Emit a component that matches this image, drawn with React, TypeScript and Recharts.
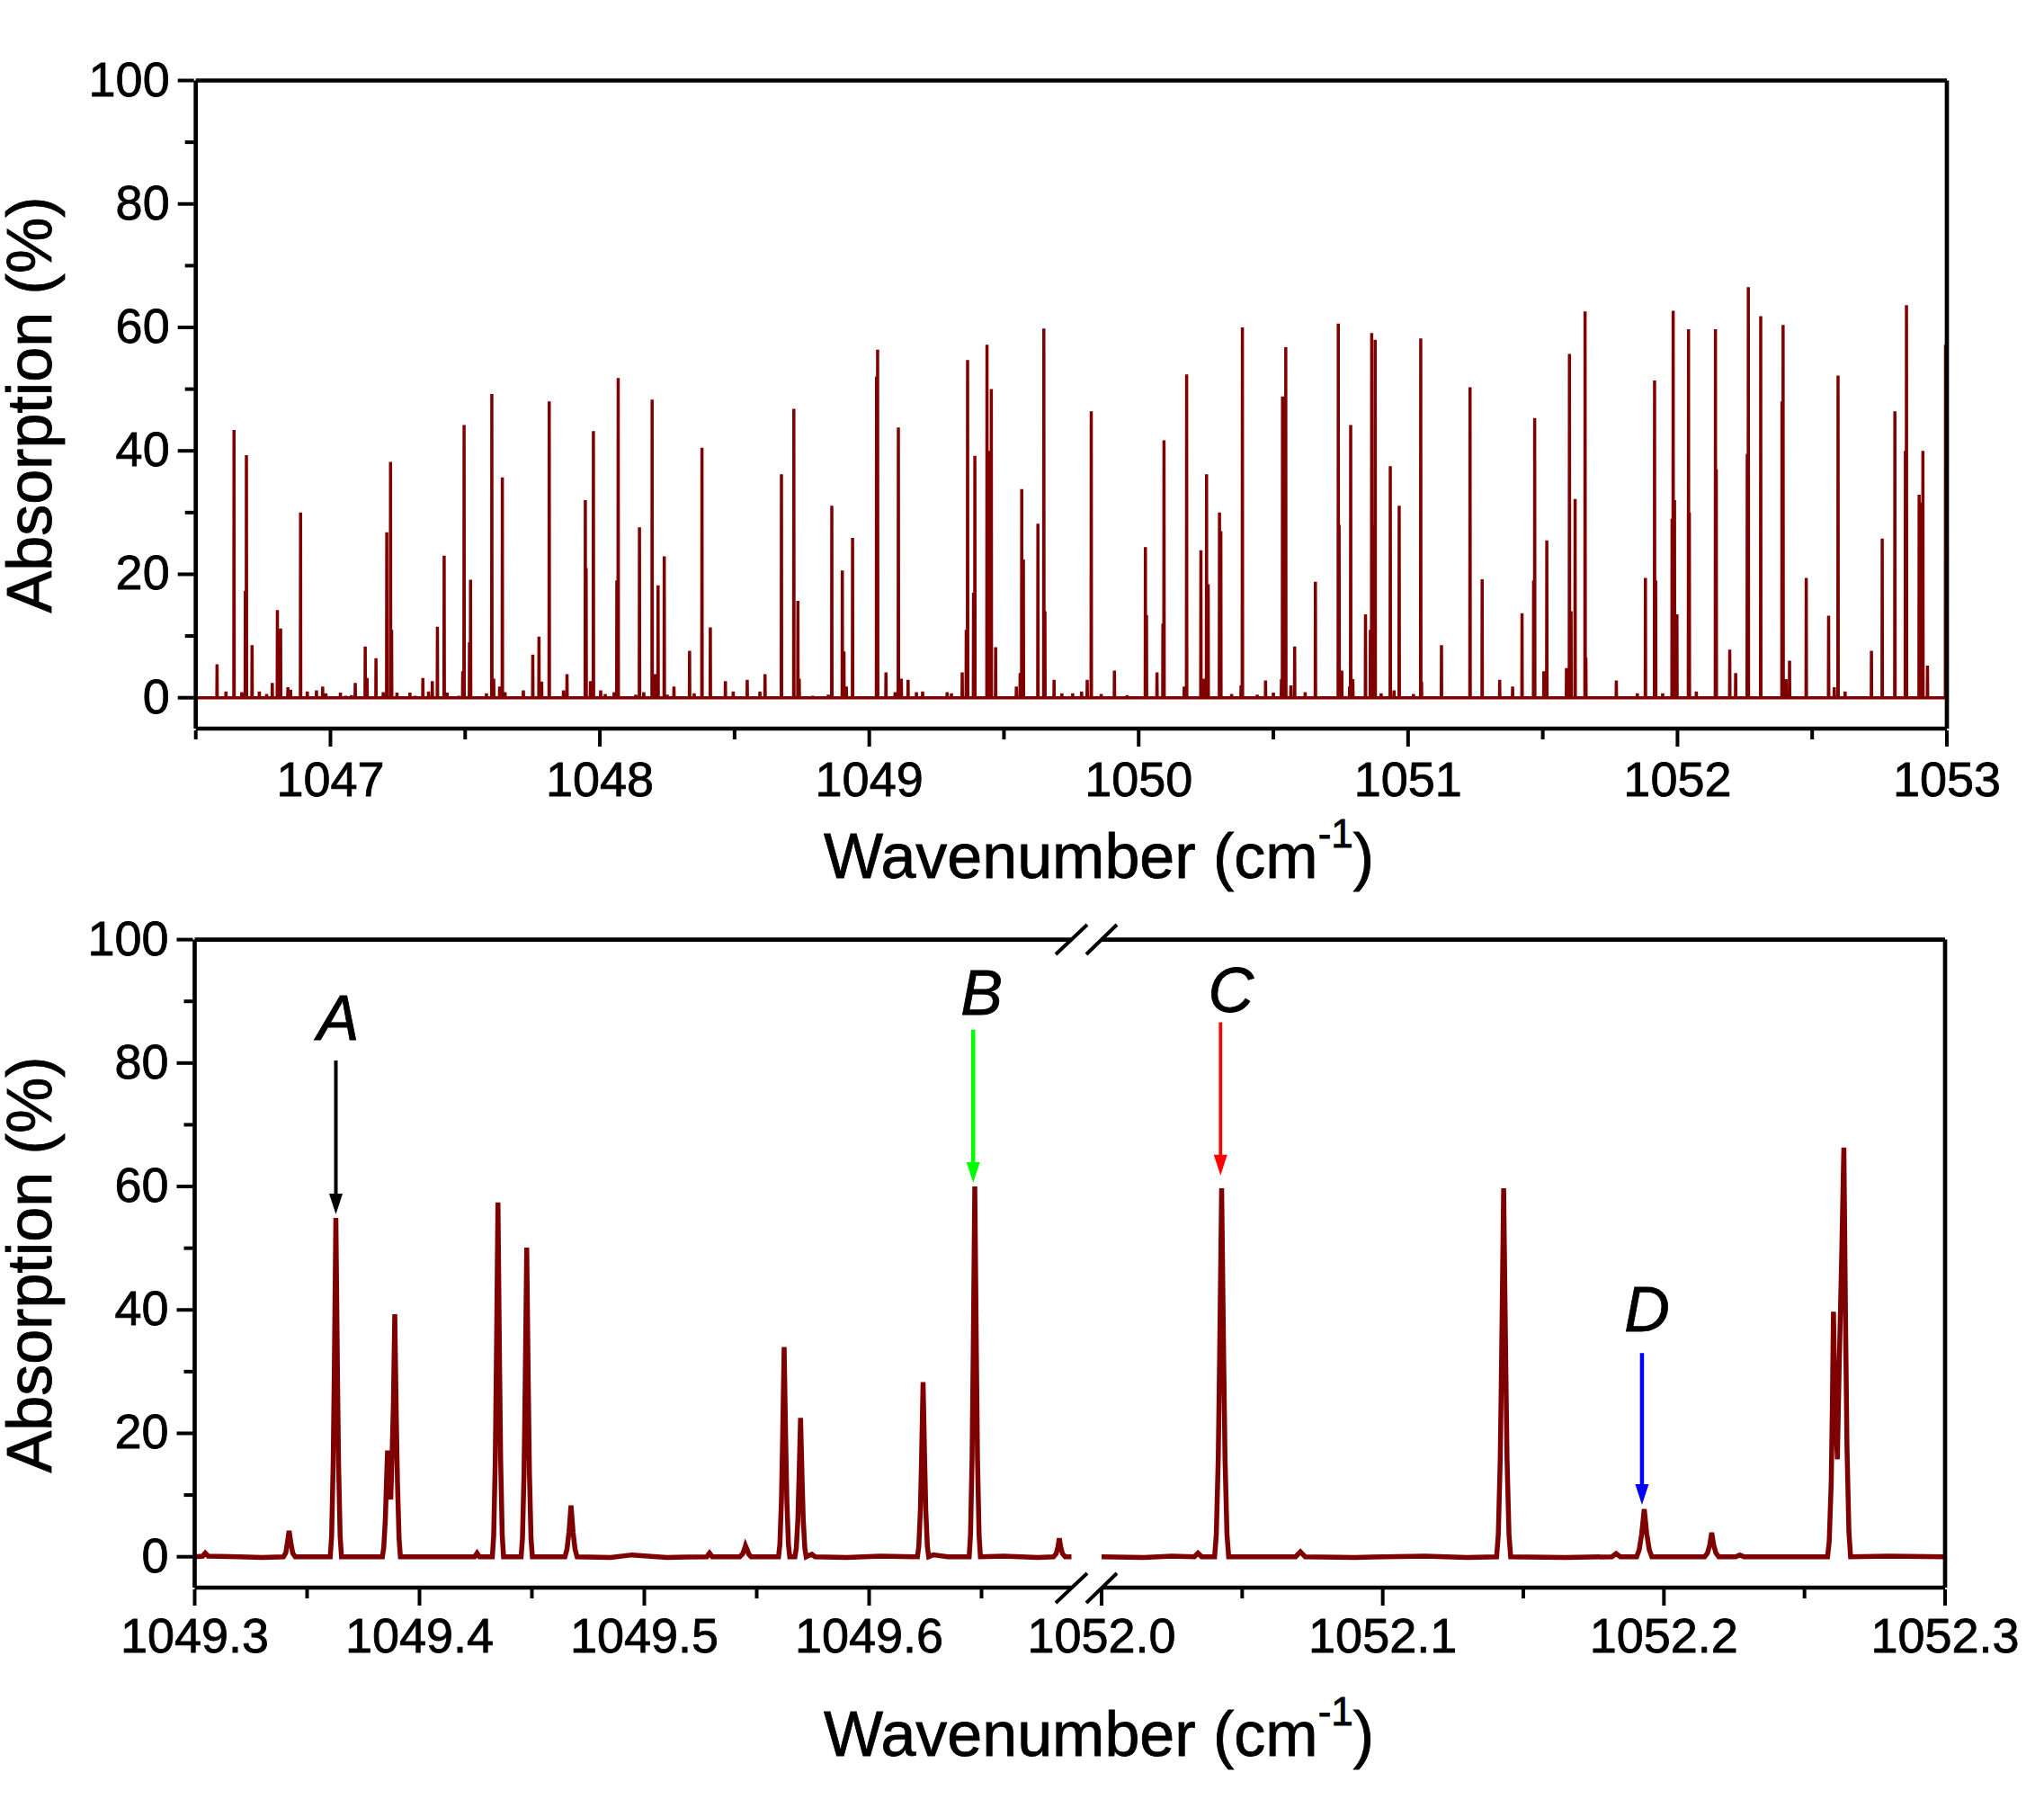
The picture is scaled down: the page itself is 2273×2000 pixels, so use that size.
import React from 'react'
import { LineChart, Line, XAxis, YAxis, ReferenceLine, ReferenceDot } from 'recharts'

// top panel: line positions (cm-1) and heights (%)
const surveyX = [
  1046.579, 1046.612, 1046.642, 1046.671, 1046.684, 1046.688, 1046.709, 1046.736, 1046.763, 1046.784, 1046.803, 1046.815,
  1046.842, 1046.852, 1046.889, 1046.914, 1046.948, 1046.971, 1046.983, 1047.037, 1047.056, 1047.078, 1047.092, 1047.129,
  1047.136, 1047.169, 1047.196, 1047.209, 1047.223, 1047.227, 1047.247, 1047.295, 1047.314, 1047.343, 1047.364, 1047.378,
  1047.397, 1047.422, 1047.433, 1047.476, 1047.491, 1047.496, 1047.516, 1047.52, 1047.579, 1047.599, 1047.606, 1047.628,
  1047.638, 1047.648, 1047.716, 1047.751, 1047.774, 1047.784, 1047.812, 1047.865, 1047.878, 1047.946, 1047.949, 1047.965,
  1047.976, 1048.003, 1048.02, 1048.053, 1048.063, 1048.068,
  1048.133, 1048.147, 1048.163, 1048.194, 1048.206, 1048.216, 1048.239, 1048.25, 1048.275, 1048.333, 1048.35, 1048.379,
  1048.41, 1048.466, 1048.495, 1048.547, 1048.594, 1048.613, 1048.674, 1048.72, 1048.735, 1048.74, 1048.79, 1048.848,
  1048.861, 1048.9, 1048.906, 1048.915, 1048.938, 1049.027, 1049.031, 1049.062, 1049.096, 1049.108, 1049.119, 1049.144,
  1049.175, 1049.198, 1049.289, 1049.305, 1049.345, 1049.36, 1049.365, 1049.387, 1049.392, 1049.437, 1049.441, 1049.449,
  1049.453, 1049.469, 1049.546, 1049.56, 1049.566, 1049.572, 1049.626, 1049.648, 1049.652, 1049.686, 1049.715, 1049.755,
  1049.788, 1049.809, 1049.824, 1049.861, 1049.91, 1049.957, 1050.025, 1050.029, 1050.068, 1050.09, 1050.094, 1050.169,
  1050.178, 1050.231, 1050.24, 1050.252, 1050.258, 1050.3, 1050.305, 1050.345, 1050.38, 1050.385, 1050.44, 1050.471,
  1050.5, 1050.53, 1050.534, 1050.541, 1050.546, 1050.565, 1050.579, 1050.618, 1050.656, 1050.741, 1050.744, 1050.754,
  1050.783, 1050.787, 1050.795, 1050.842, 1050.86, 1050.865, 1050.87, 1050.878, 1050.9, 1050.934, 1050.948, 1050.967,
  1051.02, 1051.047, 1051.05, 1051.124, 1051.23, 1051.275, 1051.34, 1051.388,
  1051.423, 1051.466, 1051.47, 1051.504, 1051.515, 1051.588, 1051.599, 1051.605, 1051.62, 1051.657, 1051.66, 1051.773,
  1051.851, 1051.881, 1051.915, 1051.919, 1051.945, 1051.98, 1051.984, 1051.989, 1051.998, 1052.041, 1052.044, 1052.07,
  1052.141, 1052.144, 1052.194, 1052.216, 1052.259, 1052.263, 1052.309, 1052.388, 1052.392, 1052.403, 1052.416, 1052.478,
  1052.561, 1052.582, 1052.596, 1052.622, 1052.72, 1052.76, 1052.807, 1052.846, 1052.85, 1052.897, 1052.902, 1052.911,
  1052.928, 1052.995, 1052.998,
]
const surveyY = [
  5.4, 1, 43.4, 0.9, 17.3, 39.3, 8.5, 1, 0.6, 2.4, 14.2, 11.2,
  1.7, 1.3, 30, 1, 1.2, 1.8, 0.7, 0.8, 0.3, 0.4, 2.4, 8.3,
  3.2, 6.4, 0.9, 26.8, 38.2, 11, 0.8, 0.8, 0.3, 3.2, 1, 2.7,
  11.5, 23, 0.8, 0.3, 4.3, 44.2, 9, 19.1, 0.7, 49.2, 3.1, 1.8,
  35.7, 0.9, 1.2, 7, 9.9, 2.6, 48, 1.2, 3.8, 32, 21, 2.7,
  43.2, 1.2, 0.6, 0.9, 19, 51.8,
  0.5, 27.6, 0.9, 48.3, 3.8, 18.2, 22.9, 0.5, 1.8, 7.6, 0.7, 40.5,
  11.4, 2.7, 1, 2.9, 1, 3.8, 36.2, 46.8, 15.7, 3.1, 0.3, 0.5,
  31.1, 20.6, 7.5, 1.8, 25.9, 52, 56.4, 4.1, 0.9, 43.8, 3.1, 2.9,
  0.9, 1, 0.9, 0.7, 4.1, 11, 54.7, 17, 39.2, 57.2, 30, 40,
  50, 8.2, 1.8, 4, 33.8, 22.4, 28.2, 59.8, 14, 2.9, 0.7, 0.7,
  1, 2.9, 46.4, 0.6, 4.4, 0.4, 24.4, 13.4, 4.1, 12, 41.7, 1.8,
  52.4, 23.9, 3.1, 36.2, 18.4, 30, 27, 0.6, 2, 60, 0.5, 2.8,
  0.8, 3, 48.8, 19, 56.8, 2, 8.3, 0.9, 18.8, 60.6, 28, 4.4,
  1.8, 44.2, 3, 13.5, 11, 59.1, 28, 58, 0.7, 37.5, 1.2, 31.1,
  0.6, 58.2, 2.6, 8.5, 50.3, 19.2, 2.9, 1.8,
  13.7, 19, 45.3, 4.3, 25.5, 4.8, 55.7, 14, 32.2, 62.6, 6.5, 2.8,
  0.7, 19.4, 51.4, 19, 0.7, 29, 62.7, 32, 13.5, 59.7, 30, 1,
  59.7, 37, 7.8, 4, 39.5, 66.5, 61.8, 48, 60.4, 3, 6, 19.4,
  13.3, 1.7, 52.2, 1, 7.6, 25.8, 46.4, 40, 63.6, 32.9, 31.6, 40,
  5.2, 57.2, 55,
]

// bottom panel, left of the break
const lowX = [
  1049.3, 1049.3035, 1049.3047, 1049.306, 1049.32, 1049.33,
  1049.3395, 1049.3405, 1049.3412, 1049.342, 1049.3428, 1049.3436, 1049.3447,
  1049.3603, 1049.3609, 1049.3616, 1049.3621, 1049.3628, 1049.3635, 1049.364, 1049.3647, 1049.3653,
  1049.3835, 1049.3841, 1049.3848, 1049.3853, 1049.3858, 1049.3865, 1049.3872, 1049.3877, 1049.3884, 1049.389, 1049.3897, 1049.3902, 1049.3909, 1049.3915,
  1049.4245, 1049.4256, 1049.4267,
  1049.4324, 1049.433, 1049.4337, 1049.4342, 1049.4349, 1049.4356, 1049.4361, 1049.4368, 1049.4374,
  1049.4452, 1049.4458, 1049.4465, 1049.447, 1049.4477, 1049.4484, 1049.4489, 1049.4496, 1049.4502,
  1049.4647, 1049.4656, 1049.4665, 1049.4674, 1049.4683, 1049.4692, 1049.4701,
  1049.485, 1049.4945, 1049.51,
  1049.5278, 1049.529, 1049.5302,
  1049.5425, 1049.5438, 1049.5445, 1049.545, 1049.5457, 1049.5465, 1049.5475,
  1049.5597, 1049.5603, 1049.561, 1049.5615, 1049.5622, 1049.5629, 1049.5634, 1049.5641, 1049.5647,
  1049.567, 1049.5676, 1049.5683, 1049.5688, 1049.5695, 1049.5702, 1049.5707, 1049.5714, 1049.572,
  1049.5745, 1049.576, 1049.59, 1049.605,
  1049.6215, 1049.6221, 1049.6228, 1049.6233, 1049.624, 1049.6247, 1049.6252, 1049.6259, 1049.6265,
  1049.6285, 1049.635,
  1049.6445, 1049.6451, 1049.6458, 1049.6463, 1049.647, 1049.6477, 1049.6482, 1049.6489, 1049.6495,
  1049.66, 1049.675,
  1049.682, 1049.6832, 1049.684, 1049.6846, 1049.6852, 1049.686, 1049.6872,
  1049.69,
]
const lowY = [
  0, 0.1, 0.6, 0.1, 0, -0.1,
  0, 0.6, 2.2, 4.2, 2.2, 0.6, 0,
  0, 3.3, 15, 30, 54.9, 30, 15, 3.3, 0,
  0, 1.5, 6, 12, 17.2, 11.5, 9.3, 15, 25, 39.3, 22, 12, 3, 0,
  0, 0.6, 0,
  0, 3.4, 15.5, 31.5, 57.4, 31.5, 15.5, 3.4, 0,
  0, 3, 13.5, 27.5, 50.1, 27.5, 13.5, 3, 0,
  0, 1.2, 4, 8.3, 4, 1.2, 0,
  -0.1, 0.3, -0.1,
  0, 0.6, 0,
  0, 0.5, 1.2, 1.8, 1.2, 0.4, 0,
  0, 2, 9.2, 18.7, 34, 18.7, 9.2, 2, 0,
  0, 1.4, 6, 12.4, 22.5, 12.4, 6, 1.4, 0,
  0.4, 0, -0.1, 0.1,
  0, 1.7, 7.6, 15.6, 28.3, 15.6, 7.6, 1.7, 0,
  0.3, 0,
  0, 3.6, 16, 33, 60, 33, 16, 3.6, 0,
  0.1, -0.1,
  0, 0.5, 1.6, 3, 1.6, 0.5, 0,
  0,
]

// bottom panel, right of the break
const highX = [
  1052.0, 1052.015, 1052.025,
  1052.033, 1052.0343, 1052.0356,
  1052.0402, 1052.0408, 1052.0415, 1052.042, 1052.0427, 1052.0434, 1052.0439, 1052.0446, 1052.0452,
  1052.069, 1052.0707, 1052.0724,
  1052.09, 1052.115, 1052.13,
  1052.1405, 1052.1411, 1052.1418, 1052.1423, 1052.143, 1052.1437, 1052.1442, 1052.1449, 1052.1455,
  1052.165,
  1052.1815, 1052.183, 1052.1845,
  1052.1903, 1052.1912, 1052.1921, 1052.193, 1052.1939, 1052.1948, 1052.1957,
  1052.2145, 1052.2155, 1052.2163, 1052.217, 1052.2177, 1052.2185, 1052.2195,
  1052.2255, 1052.227, 1052.2285, 1052.245,
  1052.2582, 1052.2588, 1052.2595, 1052.2599, 1052.2603, 1052.2609, 1052.2617, 1052.2623, 1052.2632, 1052.264, 1052.2646, 1052.2651, 1052.2658, 1052.2664,
  1052.28, 1052.3,
]
const highY = [
  0, -0.1, 0.1,
  0, 0.6, 0,
  0, 3.6, 16, 33, 59.7, 33, 16, 3.6, 0,
  0, 0.8, 0,
  -0.1, 0.1, -0.1,
  0, 3.6, 16, 33, 59.7, 33, 16, 3.6, 0,
  -0.1,
  0, 0.5, 0,
  0, 1.1, 3.7, 7.7, 3.7, 1.1, 0,
  0, 0.6, 1.9, 3.9, 1.9, 0.6, 0,
  0, 0.3, 0, 0,
  0, 2.5, 12, 24, 39.7, 24, 15.8, 30, 48, 66.3, 38, 18, 4, 0,
  0.1, 0,
]

const yMajorTicks = [0, 20, 40, 60, 80, 100]
const yAllTicks = [0, 10, 20, 30, 40, 50, 60, 70, 80, 90, 100]
const surveyMajorTicks = [1047, 1048, 1049, 1050, 1051, 1052, 1053]
const surveyAllTicks = [1046.5, 1047, 1047.5, 1048, 1048.5, 1049, 1049.5, 1050, 1050.5, 1051, 1051.5, 1052, 1052.5, 1053]
const lowMajorTicks = [1049.3, 1049.4, 1049.5, 1049.6]
const lowAllTicks = [1049.3, 1049.35, 1049.4, 1049.45, 1049.5, 1049.55, 1049.6, 1049.65]
const highMajorTicks = [1052.0, 1052.1, 1052.2, 1052.3]
const highAllTicks = [1052.0, 1052.05, 1052.1, 1052.15, 1052.2, 1052.25, 1052.3]

const FONT = '"Liberation Sans", Arial, sans-serif'
const LINE = '#7f0000'
const AXIS = { stroke: '#000', strokeWidth: 4.7 }
const TICK_WIDTH = 4
const TEXT_HEFT = 0.8
const Y_DOMAIN: [number, number] = [-5, 100]

const toRows = (xs: number[], ys: number[]) => xs.map((x, i) => ({ x, y: ys[i] }))

// each survey line is a very narrow spike on the zero baseline
const surveyRows = surveyX
  .map((x, i) => [{ x: x - 0.0008, y: 0 }, { x, y: surveyY[i] }, { x: x + 0.0008, y: 0 }])
  .flat()
const surveyData = [{ x: 1046.5, y: 0 }, ...surveyRows, { x: 1053, y: 0 }].sort((a, b) => a.x - b.x)

const bottomTick = (majors: number[], digits: number, labelGap: number) => (props: any) => {
  const { x, y, payload } = props
  const major = majors.includes(payload.value)
  return (
    <g>
      <line x1={x} y1={y} x2={x} y2={y + (major ? 18 : 10)} stroke="#000" strokeWidth={TICK_WIDTH} />
      {major && (
        <text x={x} y={y + labelGap} textAnchor="middle" fontSize={54} fontFamily={FONT} fill="#000" stroke="#000" strokeWidth={TEXT_HEFT}>
          {payload.value.toFixed(digits)}
        </text>
      )}
    </g>
  )
}

const topTick = (majors: number[]) => (props: any) => {
  const { x, y, payload } = props
  return <line x1={x} y1={y} x2={x} y2={y + (majors.includes(payload.value) ? 18 : 10)} stroke="#000" strokeWidth={TICK_WIDTH} />
}

const leftTick = (props: any) => {
  const { x, y, payload } = props
  const major = yMajorTicks.includes(payload.value)
  return (
    <g>
      <line x1={x} y1={y} x2={x - (major ? 18 : 10)} y2={y} stroke="#000" strokeWidth={TICK_WIDTH} />
      {major && (
        <text x={x - 27} y={y + 17} textAnchor="end" fontSize={54} fontFamily={FONT} fill="#000" stroke="#000" strokeWidth={TEXT_HEFT}>
          {payload.value}
        </text>
      )}
    </g>
  )
}

const rightTick = (props: any) => {
  const { x, y, payload } = props
  return <line x1={x} y1={y} x2={x - (yMajorTicks.includes(payload.value) ? 18 : 10)} y2={y} stroke="#000" strokeWidth={TICK_WIDTH} />
}

// Recharts overwrites x and y on a label element, hence left and base
const XTitle = ({ left, base }: { left: number; base: number }) => (
  <text x={left} y={base} textAnchor="middle" fontSize={70} fontFamily={FONT} fill="#000" stroke="#000" strokeWidth={TEXT_HEFT}>
    <tspan>Wavenumber (cm</tspan>
    <tspan dy={-34} fontSize={44}>-1</tspan>
    <tspan dy={34}>)</tspan>
  </text>
)

const YTitle = ({ left, base }: { left: number; base: number }) => (
  <text
    transform={`translate(${left},${base}) rotate(-90)`}
    textAnchor="middle"
    fontSize={70}
    fontFamily={FONT}
    fill="#000"
    stroke="#000"
    strokeWidth={TEXT_HEFT}
  >
    Absorption (%)
  </text>
)

const arrowShape = (strokeWidth: number) => (props: any) => {
  const { x1, y1, x2, y2, stroke } = props
  return (
    <g>
      <line x1={x1} y1={y1} x2={x2} y2={y2 - 20} stroke={stroke} strokeWidth={strokeWidth} />
      <polygon points={`${x2 - 7.5},${y2 - 23} ${x2 + 7.5},${y2 - 23} ${x2},${y2}`} fill={stroke} />
    </g>
  )
}

const letterStyle = { fontSize: 70, fontStyle: 'italic', fontFamily: FONT, fill: '#000', stroke: '#000', strokeWidth: TEXT_HEFT }

const Letter = ({ x, y, text }: { x: number; y: number; text: string }) => (
  <ReferenceDot x={x} y={y} r={0} fill="none" stroke="none" label={{ value: text, position: 'center', style: letterStyle }} />
)

const W = 2273

export default function App() {
  return (
    <div style={{ position: 'absolute', left: 0, top: 0, width: W, height: 2000, background: '#fff', overflow: 'hidden' }}>
      {/* survey spectrum */}
      <div style={{ position: 'absolute', left: 0, top: 0 }}>
        <LineChart width={W} height={1000} data={surveyData} margin={{ top: 88.5, right: 107, bottom: 189, left: 216.7 }}>
          <XAxis
            dataKey="x"
            type="number"
            domain={[1046.5, 1053]}
            ticks={surveyAllTicks}
            interval={0}
            height={1}
            tickSize={0}
            tickLine={false}
            axisLine={AXIS}
            tick={bottomTick(surveyMajorTicks, 0, 73)}
            label={<XTitle left={1222} base={976} />}
          />
          <XAxis
            xAxisId="top"
            orientation="top"
            type="number"
            domain={[1046.5, 1053]}
            ticks={surveyAllTicks}
            interval={0}
            height={1}
            tickSize={0}
            tickLine={false}
            axisLine={AXIS}
            tick={topTick(surveyMajorTicks)}
          />
          <YAxis
            type="number"
            domain={Y_DOMAIN}
            ticks={yAllTicks}
            interval={0}
            width={1}
            tickSize={0}
            tickLine={false}
            axisLine={AXIS}
            tick={leftTick}
            label={<YTitle left={57} base={450} />}
          />
          <YAxis
            yAxisId="right"
            orientation="right"
            type="number"
            domain={Y_DOMAIN}
            ticks={yAllTicks}
            interval={0}
            width={1}
            tickSize={0}
            tickLine={false}
            axisLine={AXIS}
            tick={rightTick}
          />
          <Line type="linear" dataKey="y" stroke={LINE} strokeWidth={3.5} dot={false} isAnimationActive={false} />
        </LineChart>
      </div>

      {/* zoomed panel, left of the break */}
      <div style={{ position: 'absolute', left: 0, top: 1000 }}>
        <LineChart width={W} height={1000} data={toRows(lowX, lowY)} margin={{ top: 43.6, right: W - 1191.5, bottom: 234, left: 215.5 }}>
          <XAxis
            dataKey="x"
            type="number"
            domain={[1049.3, 1049.69]}
            ticks={lowAllTicks}
            interval={0}
            height={1}
            tickSize={0}
            tickLine={false}
            axisLine={AXIS}
            tick={bottomTick(lowMajorTicks, 1, 70)}
            label={<XTitle left={1222} base={952} />}
          />
          <XAxis
            xAxisId="top"
            orientation="top"
            type="number"
            domain={[1049.3, 1049.69]}
            ticks={lowAllTicks}
            interval={0}
            height={1}
            tickSize={0}
            tickLine={false}
            axisLine={AXIS}
            tick={topTick(lowMajorTicks)}
          />
          <YAxis
            type="number"
            domain={Y_DOMAIN}
            ticks={yAllTicks}
            interval={0}
            width={1}
            tickSize={0}
            tickLine={false}
            axisLine={AXIS}
            tick={leftTick}
            label={<YTitle left={57} base={406} />}
          />
          <Line type="linear" dataKey="y" stroke={LINE} strokeWidth={5.5} dot={false} isAnimationActive={false} />
          <ReferenceLine segment={[{ x: 1049.3628, y: 80.4 }, { x: 1049.3628, y: 55.5 }]} stroke="#000" shape={arrowShape(4)} />
          <ReferenceLine segment={[{ x: 1049.6463, y: 85.4 }, { x: 1049.6463, y: 60.6 }]} stroke="#00ff00" shape={arrowShape(4.5)} />
          {Letter({ x: 1049.3638, y: 87.4, text: 'A' })}
          {Letter({ x: 1049.65, y: 91.4, text: 'B' })}
        </LineChart>
      </div>

      {/* zoomed panel, right of the break */}
      <div style={{ position: 'absolute', left: 0, top: 1000 }}>
        <LineChart width={W} height={1000} data={toRows(highX, highY)} margin={{ top: 43.6, right: 109, bottom: 234, left: 1225 }}>
          <XAxis
            dataKey="x"
            type="number"
            domain={[1052.0, 1052.3]}
            ticks={highAllTicks}
            interval={0}
            height={1}
            tickSize={0}
            tickLine={false}
            axisLine={AXIS}
            tick={bottomTick(highMajorTicks, 1, 70)}
          />
          <XAxis
            xAxisId="top"
            orientation="top"
            type="number"
            domain={[1052.0, 1052.3]}
            ticks={highAllTicks}
            interval={0}
            height={1}
            tickSize={0}
            tickLine={false}
            axisLine={AXIS}
            tick={topTick(highMajorTicks)}
          />
          <YAxis
            yAxisId="right"
            orientation="right"
            type="number"
            domain={Y_DOMAIN}
            ticks={yAllTicks}
            interval={0}
            width={1}
            tickSize={0}
            tickLine={false}
            axisLine={AXIS}
            tick={rightTick}
          />
          <YAxis type="number" domain={Y_DOMAIN} hide />
          <Line type="linear" dataKey="y" stroke={LINE} strokeWidth={5.5} dot={false} isAnimationActive={false} />
          <ReferenceLine segment={[{ x: 1052.0423, y: 86.6 }, { x: 1052.0423, y: 61.8 }]} stroke="#ff0000" shape={arrowShape(3.7)} />
          <ReferenceLine segment={[{ x: 1052.1922, y: 33 }, { x: 1052.1922, y: 8.4 }]} stroke="#0000ff" shape={arrowShape(4.5)} />
          {Letter({ x: 1052.046, y: 91.9, text: 'C' })}
          {Letter({ x: 1052.194, y: 40.2, text: 'D' })}
        </LineChart>
      </div>

      {/* axis break marks */}
      <svg width={W} height={2000} style={{ position: 'absolute', left: 0, top: 0, pointerEvents: 'none' }}>
        <g stroke="#000" strokeWidth={4}>
          <line x1={1174} y1={1061} x2={1209} y2={1028} />
          <line x1={1208} y1={1061} x2={1242} y2={1028} />
          <line x1={1174} y1={1782} x2={1209} y2={1749} />
          <line x1={1208} y1={1782} x2={1242} y2={1749} />
        </g>
      </svg>
    </div>
  )
}
